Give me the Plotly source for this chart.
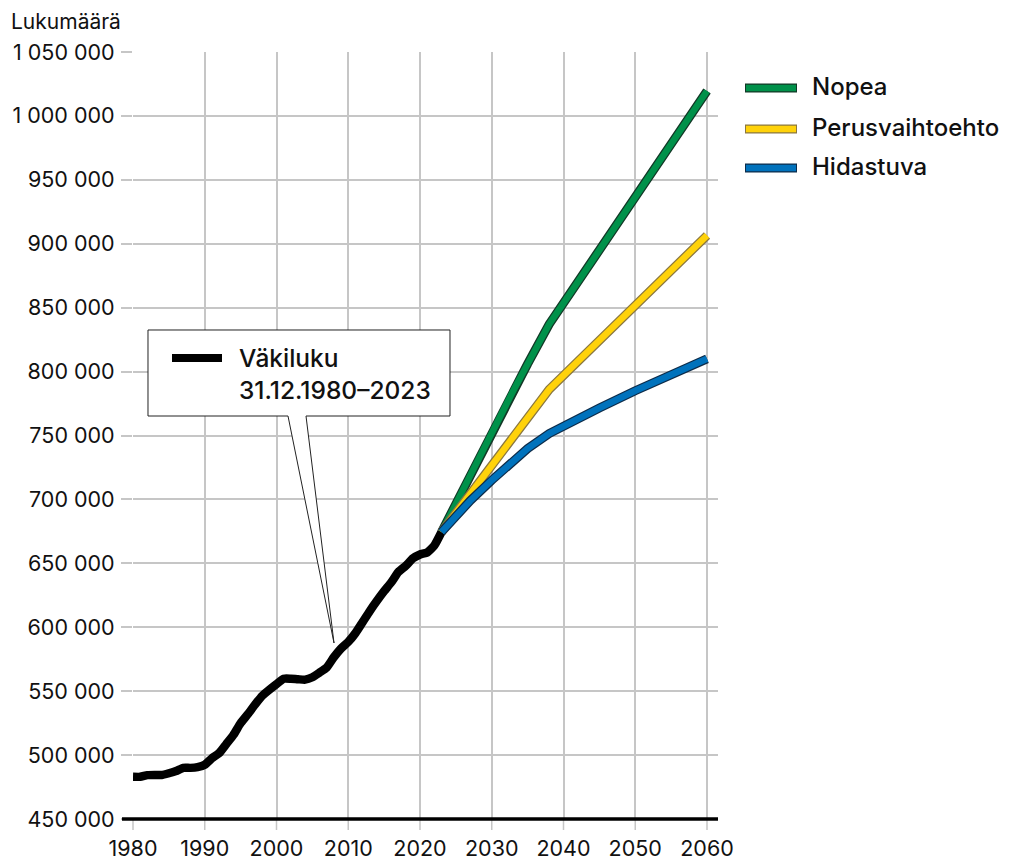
import plotly.graph_objects as go

# ---- data ----
hist_years = list(range(1980, 2024))
hist_values = [483036, 483000, 484300, 484500, 484400, 485800, 487500, 490000, 490000, 490600,
               492400, 497500, 501500, 508600, 515800, 525000, 532000, 539400, 546300, 551100,
               555500, 559700, 559700, 559300, 559000, 560900, 564500, 568500, 576600, 583400,
               588500, 595400, 604000, 612700, 620700, 628200, 635200, 643300, 648000, 653800,
               656900, 658500, 664000, 674500]

proj_years = [2023, 2025, 2027, 2030, 2033, 2035, 2038, 2040, 2045, 2050, 2055, 2060]
nopea = [674500, 697000, 719500, 752500, 785000, 806000, 837000, 853500, 895000, 937000, 978500, 1019500]
perus = [674500, 689500, 704500, 727000, 749500, 764500, 786000, 797000, 824400, 851800, 879200, 906500]
hidas = [674500, 687000, 699000, 715000, 730500, 739800, 751500, 757500, 771500, 785000, 798000, 810000]

series_names = ["Nopea", "Perusvaihtoehto", "Hidastuva"]
series_colors = ["#00914a", "#ffd20a", "#0072bc"]
series_outline = ["#123826", "#8a7740", "#0d2c4a"]

y_ticks = [450000, 500000, 550000, 600000, 650000, 700000, 750000, 800000, 850000,
           900000, 950000, 1000000, 1050000]
y_ticktext = ["450 000", "500 000", "550 000", "600 000", "650 000", "700 000", "750 000",
              "800 000", "850 000", "900 000", "950 000", "1 000 000", "1 050 000"]
x_ticks = [1980, 1990, 2000, 2010, 2020, 2030, 2040, 2050, 2060]

hist_label = ["Väkiluku", "31.12.1980–2023"]
y_title = "Lukumäärä"

# ---- layout geometry (screen pixels; page body has an 8px margin) ----
OFF = 8
W, H = 1009 - OFF, 861 - OFF
SL, SR, ST, SB = 133, 718, 52, 819          # plot area in screen pixels
PW, PH = SR - SL, SB - ST
X_RANGE = [1980, 1980 + 80 * PW / (707 - SL)]


def px(x):
    return (x - SL) / PW


def py(y):
    return (SB - y) / PH


FONT = "Inter"
grid_col = "#c6c6c6"
fig = go.Figure()

fig.add_trace(go.Scatter(x=hist_years, y=hist_values, mode="lines",
                         line=dict(color="#000000", width=8.5, shape="spline", smoothing=0.5),
                         hoverinfo="skip", showlegend=False))

for vals, col, oc in zip([nopea, perus, hidas], series_colors, series_outline):
    fig.add_trace(go.Scatter(x=proj_years, y=vals, mode="lines",
                             line=dict(color=oc, width=9),
                             hoverinfo="skip", showlegend=False))
    fig.add_trace(go.Scatter(x=proj_years, y=vals, mode="lines",
                             line=dict(color=col, width=6.5),
                             hoverinfo="skip", showlegend=False))

shapes = []
annotations = []

# x tick marks below the baseline (gridlines continue past the axis)
for xv in x_ticks:
    xp = (xv - X_RANGE[0]) / (X_RANGE[1] - X_RANGE[0])
    shapes.append(dict(type="line", xref="paper", yref="paper", x0=xp, x1=xp, y0=0,
                       y1=-11 / PH, line=dict(color=grid_col, width=1.5), layer="below"))

# baseline
shapes.append(dict(type="line", xref="paper", yref="paper", x0=px(122), x1=1, y0=0, y1=0,
                   line=dict(color="#000000", width=3.5), layer="above"))

# manual legend
legend_y = [88, 129, 168]
for name, col, oc, yy in zip(series_names, series_colors, series_outline, legend_y):
    shapes.append(dict(type="line", xref="paper", yref="paper", x0=px(745), x1=px(797),
                       y0=py(yy), y1=py(yy), line=dict(color=oc, width=9), layer="above"))
    shapes.append(dict(type="line", xref="paper", yref="paper", x0=px(746), x1=px(796),
                       y0=py(yy), y1=py(yy), line=dict(color=col, width=6.5), layer="above"))
    annotations.append(dict(xref="paper", yref="paper", x=px(810), y=py(yy - 2), text=name,
                            showarrow=False, xanchor="left", yanchor="middle",
                            font=dict(family=FONT, size=24, color="#111111", weight=500)))

# callout box
pts = [(148, 330), (450, 330), (450, 416), (306, 416), (334, 643), (288, 416), (148, 416)]
path = "M " + " L ".join(f"{px(a):.5f},{py(b):.5f}" for a, b in pts) + " Z"
shapes.append(dict(type="path", xref="paper", yref="paper", path=path,
                   fillcolor="white", line=dict(color="#222222", width=1), layer="above"))
shapes.append(dict(type="line", xref="paper", yref="paper", x0=px(172), x1=px(222),
                   y0=py(358), y1=py(358), line=dict(color="#000000", width=8), layer="above"))
annotations.append(dict(xref="paper", yref="paper", x=px(237), y=py(358), text=hist_label[0],
                        showarrow=False, xanchor="left", yanchor="middle",
                        font=dict(family=FONT, size=24.5, color="#111111", weight=500)))
annotations.append(dict(xref="paper", yref="paper", x=px(237), y=py(390), text=hist_label[1],
                        showarrow=False, xanchor="left", yanchor="middle",
                        font=dict(family=FONT, size=24.5, color="#111111", weight=500)))

# y title
annotations.append(dict(xref="paper", yref="paper", x=px(10), y=py(OFF), text=y_title,
                        showarrow=False, xanchor="left", yanchor="top", borderpad=0,
                        font=dict(family=FONT, size=21, color="#111111")))

fig.update_layout(
    width=W, height=H,
    margin=dict(l=SL - OFF, r=W - (SR - OFF), t=ST - OFF, b=H - (SB - OFF), pad=0,
                autoexpand=False),
    plot_bgcolor="white", paper_bgcolor="white",
    showlegend=False,
    shapes=shapes, annotations=annotations,
    font=dict(family=FONT, size=21.5, color="#111111"),
    xaxis=dict(range=X_RANGE, tickvals=x_ticks,
               showgrid=True, gridcolor=grid_col, gridwidth=1.5,
               ticks="", showline=False, zeroline=False, ticklabelstandoff=14,
               automargin=False,
               tickfont=dict(family=FONT, size=21.5, color="#111111")),
    yaxis=dict(range=[450000, 1050000], tickvals=y_ticks, ticktext=y_ticktext,
               showgrid=True, gridcolor=grid_col, gridwidth=1.5,
               ticks="outside", ticklen=11, tickcolor=grid_col, tickwidth=1.5,
               showline=False, zeroline=False, ticklabelstandoff=2, automargin=False,
               tickfont=dict(family=FONT, size=21.5, color="#111111")),
)

fig.write_html("out.html")
